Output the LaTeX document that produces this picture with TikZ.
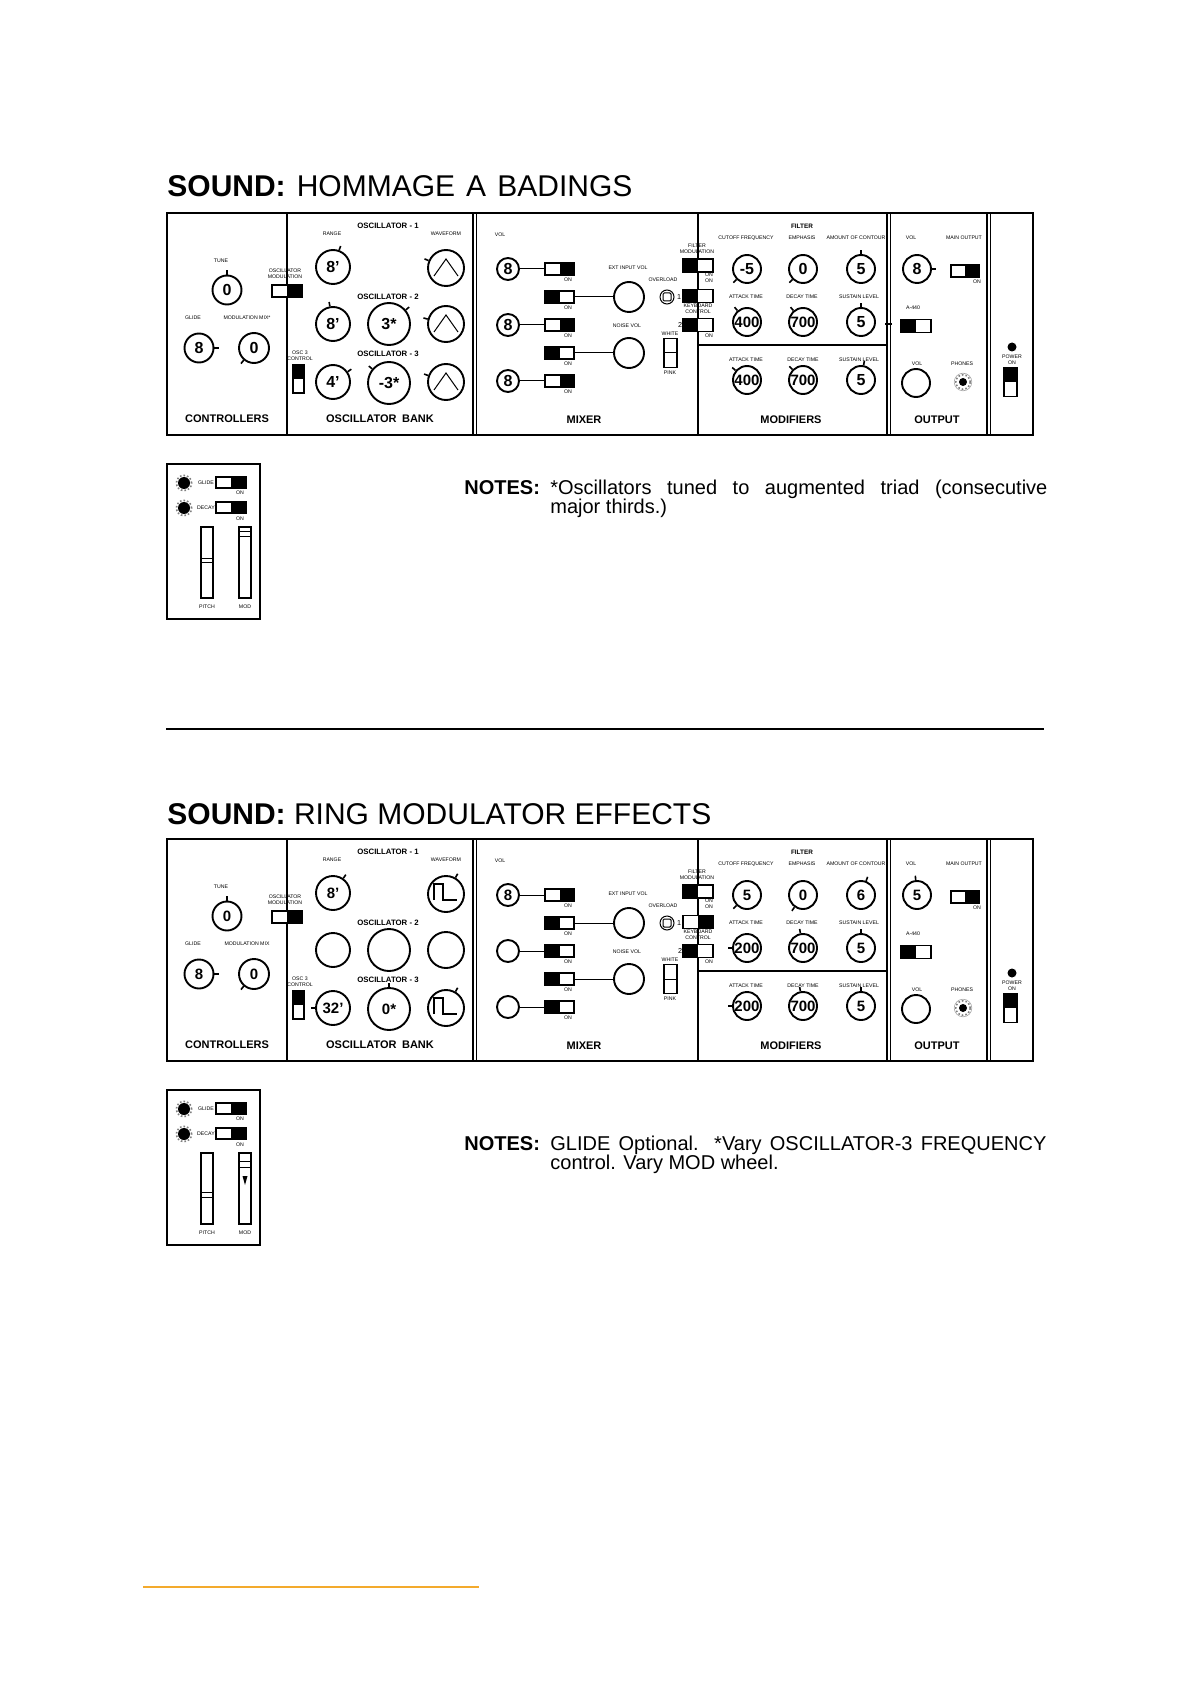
\documentclass[tikz,border=0pt]{standalone}
\usepackage{fontspec}
\setmainfont{Liberation Sans}
\definecolor{mmorange}{RGB}{243,170,45}
\tikzset{
 kfont/.style={font=\fontsize{8pt}{8pt}\selectfont\bfseries},
 knob/.style={circle,draw,line width=0.95pt,inner sep=0pt,fill=white,kfont},
 tick/.style={line width=0.8pt},
 sw/.style={rectangle,draw,line width=0.8pt,inner sep=0pt,fill=white},
 lab/.style={inner sep=0pt,align=center,font=\fontsize{2.6pt}{3pt}\selectfont},
 head/.style={inner sep=0pt,font=\fontsize{5.5pt}{6pt}\selectfont\bfseries},
 oschead/.style={inner sep=0pt,font=\fontsize{3.9pt}{4pt}\selectfont\bfseries},
 wire/.style={line width=0.5pt},
 wave/.style={line width=0.5pt},
 sqwave/.style={line width=0.7pt},
 dbl/.style={line width=0.55pt},
 jack/.style={circle,fill=black,inner sep=0pt},
 wheel/.style={draw,line width=0.6pt,minimum width=6pt,minimum height=35.5pt,inner sep=0pt},
 notefont/.style={anchor=base west,inner sep=0pt,font=\fontsize{10pt}{12pt}\selectfont},
}
\newcommand\mmknob[6]{\node[knob,minimum size=#4pt] (#1) at (#2,#3) {#5};\draw[tick] (#1.#6) -- ++(#6:2.2pt);}
\newcommand\mmknobb[5]{\node[knob,minimum size=#4pt] (#1) at (#2,#3) {#5};}
\newcommand\mmswL[5]{\node[sw,minimum width=#4pt,minimum height=#5pt] (#1) at (#2,#3) {};\fill (#1.north west) rectangle (#1.south);}
\newcommand\mmswR[5]{\node[sw,minimum width=#4pt,minimum height=#5pt] (#1) at (#2,#3) {};\fill (#1.north) rectangle (#1.south east);}
\newcommand\mmswT[5]{\node[sw,minimum width=#4pt,minimum height=#5pt] (#1) at (#2,#3) {};\fill (#1.north west) rectangle (#1.east);}
\newcommand\mmlab[4]{\node[lab] (#1) at (#2,#3) {#4};}
\newcommand\mmtri[1]{\draw[wave] ([shift={(-6pt,-4pt)}]#1.center) -- ([shift={(0pt,4.5pt)}]#1.center) -- ([shift={(6pt,-4pt)}]#1.center);}
\newcommand\mmsq[1]{\draw[sqwave] ([shift={(-6pt,-3pt)}]#1.center) -- ([shift={(-6pt,5pt)}]#1.center) -- ([shift={(-1.5pt,5pt)}]#1.center) -- ([shift={(-1.5pt,-3pt)}]#1.center) -- ([shift={(5.5pt,-3pt)}]#1.center);}
\newcommand\mmthree[1]{{\fontsize{7.5pt}{7.5pt}\selectfont #1}}
\newcommand\mmframe[1]{%
 \draw[line width=1.2pt] (167,213) rectangle (1033,435);
 \draw[line width=1.3pt] (287,213) -- (287,435);
 \draw[dbl] (473,213) -- (473,435); \draw[dbl] (476.5,213) -- (476.5,435);
 \draw[line width=0.8pt] (698,213) -- (698,435);
 \draw[line width=0.8pt] (698,345) -- (887,345);
 \draw[dbl] (887,213) -- (887,435); \draw[dbl] (890.5,213) -- (890.5,435);
 \draw[dbl] (987,213) -- (987,435); \draw[dbl] (990.5,213) -- (990.5,435);
 \node[head] (#1hC) at (227,419) {CONTROLLERS};
 \node[head] (#1hO) at (380,419) {OSCILLATOR\hspace{0.5em}BANK};
 \node[head] (#1hM) at (584,420) {MIXER};
 \node[head] (#1hD) at (791,420) {MODIFIERS};
 \node[head] (#1hU) at (937,420) {OUTPUT};
 \mmlab{#1a}{221}{261}{TUNE}
 \mmlab{#1b}{193}{318}{GLIDE}
 \mmlab{#1c}{285}{274}{OSCILLATOR\\MODULATION}
 \node[oschead] (#1d) at (388,226) {OSCILLATOR - 1};
 \node[oschead] (#1e) at (388,297) {OSCILLATOR - 2};
 \node[oschead] (#1f) at (388,354) {OSCILLATOR - 3};
 \mmlab{#1g}{332}{234}{RANGE}
 \mmlab{#1h}{446}{234}{WAVEFORM}
 \mmlab{#1i}{300}{356}{OSC 3\\CONTROL}
 \mmlab{#1j}{500}{235}{VOL}
 \mmlab{#1ka}{568}{280}{ON}
 \mmlab{#1kb}{568}{308}{ON}
 \mmlab{#1kc}{568}{336}{ON}
 \mmlab{#1kd}{568}{364}{ON}
 \mmlab{#1ke}{568}{392}{ON}
 \mmlab{#1l}{628}{268}{EXT INPUT VOL}
 \mmlab{#1m}{627}{326}{NOISE VOL}
 \mmlab{#1n}{663}{280}{OVERLOAD}
 \node[lab,font=\fontsize{3.6pt}{4pt}\selectfont] (#1o) at (679,297) {1};
 \node[lab,font=\fontsize{3.6pt}{4pt}\selectfont] (#1p) at (680,325) {2};
 \mmlab{#1q}{697}{249}{FILTER\\MODULATION}
 \mmlab{#1r}{709}{277.5}{ON\\ON}
 \mmlab{#1s}{698}{308.5}{KEYBOARD\\CONTROL}
 \mmlab{#1t}{709}{336}{ON}
 \mmlab{#1u}{670}{334}{WHITE}
 \mmlab{#1v}{670}{373}{PINK}
 \node[lab,font=\fontsize{3.2pt}{3.5pt}\selectfont\bfseries] (#1w) at (802,226) {FILTER};
 \mmlab{#1xa}{746}{238}{CUTOFF FREQUENCY}
 \mmlab{#1xb}{802}{238}{EMPHASIS}
 \mmlab{#1xc}{856}{238}{AMOUNT OF CONTOUR}
 \mmlab{#1ya}{746}{297}{ATTACK TIME}
 \mmlab{#1yb}{802}{297}{DECAY TIME}
 \mmlab{#1yc}{859}{297}{SUSTAIN LEVEL}
 \mmlab{#1za}{746}{360}{ATTACK TIME}
 \mmlab{#1zb}{803}{360}{DECAY TIME}
 \mmlab{#1zc}{859}{360}{SUSTAIN LEVEL}
 \mmlab{#1A}{911}{238}{VOL}
 \mmlab{#1B}{964}{238}{MAIN OUTPUT}
 \mmlab{#1C}{977}{282}{ON}
 \mmlab{#1D}{913}{308}{A-440}
 \mmlab{#1E}{917}{364}{VOL}
 \mmlab{#1F}{962}{364}{PHONES}
 \mmlab{#1G}{1012}{359.5}{POWER\\ON}
 \mmknobb{#1ext}{629}{297}{15}{}
 \mmknobb{#1noi}{629}{353}{15}{}
 \node[circle,draw,line width=0.5pt,minimum size=7pt,inner sep=0pt] (#1ovl) at (667,297) {};
 \node[draw,rounded corners=0.6pt,line width=0.5pt,minimum size=4pt,inner sep=0pt] (#1ovs) at (667,297) {};
 \node[sw,minimum width=6.5pt,minimum height=14.5pt] (#1nt) at (670.5,353) {};
 \draw[line width=0.5pt] (#1nt.west) -- (#1nt.east);
 \mmswT{#1oc}{298.5}{379}{5.5}{14}
 \mmswR{#1om}{287}{291}{15}{6}
 \mmknobb{#1ovb}{916}{383}{14}{}
 \node[jack,minimum size=4pt] (#1ph) at (963,382) {};
 \draw[gray,densely dotted,line width=0.8pt] (#1ph.center) circle (3.6pt);
 \draw[gray!70,line width=0.3pt] (#1ph.center) circle (4.4pt);
 \mmswR{#1mo}{965}{271}{14}{6}
 \mmswL{#1af}{916}{326}{15}{6.5}
 \node[jack,minimum size=4.5pt] (#1pl) at (1012,347) {};
 \mmswT{#1pw}{1010.5}{382}{6.5}{14.5}
}
\newcommand\mmwires[1]{%
 \draw[wire] (#1va) -- (#1sa);
 \draw[wire] (#1sb) -- (#1ext);
 \draw[wire] (#1vb) -- (#1sc);
 \draw[wire] (#1sd) -- (#1noi);
 \draw[wire] (#1vc) -- (#1se);
}
\newcommand\mmwheel[1]{%
 \draw[line width=1pt] (167,464) rectangle (260,619);
 \node[jack,minimum size=6pt] (#1ja) at (184,483) {};
 \draw[gray,densely dotted,line width=0.8pt] (#1ja.center) circle (3.8pt);
 \node[jack,minimum size=6pt] (#1jb) at (184,508) {};
 \draw[gray,densely dotted,line width=0.8pt] (#1jb.center) circle (3.8pt);
 \mmlab{#1la}{206}{483}{GLIDE}
 \mmlab{#1lb}{206}{508}{DECAY}
 \mmswR{#1g}{231}{482.5}{15}{5.5}
 \mmswR{#1d}{231}{507.5}{15}{5.5}
 \mmlab{#1lc}{240}{493}{ON}
 \mmlab{#1ld}{240}{519}{ON}
 \node[wheel] (#1pw) at (207,562.5) {};
 \node[wheel] (#1mw) at (245,562.5) {};
 \mmlab{#1le}{207}{607}{PITCH}
 \mmlab{#1lf}{245}{607}{MOD}
}
\begin{document}
\begin{tikzpicture}[x=0.5pt,y=-0.5pt]
\fill[white] (0,0) rectangle (1190,1684);
\useasboundingbox (0,0) rectangle (1190,1684);

% ---------- titles ----------
\node[anchor=base west,inner sep=0pt,font=\fontsize{15pt}{18pt}\selectfont] (t1) at (167,197) {\makebox[232.5pt][s]{\textbf{SOUND:} HOMMAGE A BADINGS}};
\node[anchor=base west,inner sep=0pt,font=\fontsize{15pt}{18pt}\selectfont] (t2) at (167,824) {\textbf{SOUND:} RING MODULATOR EFFECTS};

% ---------- panel 1 ----------
\begin{scope}
\mmframe{A}
\mmknob{Atune}{227}{290}{14.5}{0}{90}
\mmknob{Agl}{199}{348}{14.5}{8}{0}
\mmknob{Amm}{254}{348}{15}{0}{230}
\mmlab{Amml}{247}{318}{MODULATION MIX*}
\mmknob{Ara}{333}{267}{17}{8'}{70}
\mmknob{Awa}{446}{268}{18}{}{157}\mmtri{Awa}
\mmknob{Arb}{333}{324}{17}{8'}{100}
\mmknob{Afb}{389}{324}{21}{3*}{40}
\mmknob{Awb}{446}{324}{18}{}{165}\mmtri{Awb}
\mmknob{Arc}{333}{382}{17}{4'}{35}
\mmknob{Afc}{389}{383}{21}{-3*}{140}
\mmknob{Awc}{446}{382}{18}{}{160}\mmtri{Awc}
\mmknobb{Ava}{508}{269}{11}{8}
\mmknobb{Avb}{508}{325}{11}{8}
\mmknobb{Avc}{508}{381}{11}{8}
\mmswR{Asa}{559.5}{269}{14.5}{6}
\mmswL{Asb}{559.5}{297}{14.5}{6}
\mmswR{Asc}{559.5}{325}{14.5}{6}
\mmswL{Asd}{559.5}{353}{14.5}{6}
\mmswR{Ase}{559.5}{381}{14.5}{6}
\mmswL{Afm}{698}{265.5}{15}{6.5}
\mmswL{Aka}{698}{296}{15}{6.5}
\mmswL{Akb}{698}{325}{15}{6.5}
\mmknob{Aco}{747}{269}{14}{-5}{225}
\mmknob{Aem}{803}{269}{14}{0}{225}
\mmknob{Aam}{861}{269}{14}{5}{90}
\mmknob{Aea}{747}{322}{14}{\mmthree{400}}{130}
\mmknob{Aed}{803}{322}{14}{\mmthree{700}}{130}
\mmknob{Aes}{861}{322}{14}{5}{90}
\mmknob{Ala}{747}{380}{14}{\mmthree{400}}{140}
\mmknob{Ald}{803}{380}{14}{\mmthree{700}}{135}
\mmknob{Als}{861}{380}{14}{5}{80}
\mmknob{Aov}{917}{269}{14}{8}{0}
\draw[tick] (885,324) -- (892,324);
\mmwires{A}
\end{scope}

% small panel 1
\begin{scope}
\mmwheel{C}
\draw[line width=0.5pt] (201,558) -- (213,558);
\draw[line width=0.5pt] (201,562) -- (213,562);
\draw[line width=0.5pt] (239,531) -- (251,531);
\draw[line width=0.5pt] (239,536) -- (251,536);
\end{scope}

% notes 1
\node[notefont,font=\fontsize{10pt}{12pt}\selectfont\bfseries] (n1h) at (464,494) {NOTES:};
\node[notefont] (n1a) at (550,494) {\makebox[248.5pt][s]{*Oscillators tuned to augmented triad (consecutive}};
\node[notefont] (n1b) at (550,513) {major thirds.)};

% separator
\draw[line width=1.2pt] (166,729) -- (1044,729);

% ---------- panel 2 ----------
\begin{scope}[shift={(0,626)},kfont/.style={font=\fontsize{7.5pt}{7.5pt}\selectfont\bfseries}]
\mmframe{B}
\mmknob{Btune}{227}{290}{14.5}{0}{90}
\mmknob{Bgl}{199}{348}{14.5}{8}{0}
\mmknob{Bmm}{254}{348}{15}{0}{230}
\mmlab{Bmml}{247}{318}{MODULATION MIX}
\mmknob{Bra}{333}{267}{17}{8'}{55}
\mmknob{Bwa}{446}{268}{18}{}{60}\mmsq{Bwa}
\mmknobb{Brb}{333}{324}{17}{}
\mmknobb{Bfb}{389}{324}{21}{}
\mmknobb{Bwb}{446}{324}{18}{}
\mmknob{Brc}{333}{382}{17}{32'}{180}
\mmknob{Bfc}{389}{383}{21}{0*}{90}
\mmknob{Bwc}{446}{382}{18}{}{60}\mmsq{Bwc}
\mmknobb{Bva}{508}{269}{11}{8}
\mmknobb{Bvb}{508}{325}{11}{}
\mmknobb{Bvc}{508}{381}{11}{}
\mmswR{Bsa}{559.5}{269}{14.5}{6}
\mmswL{Bsb}{559.5}{297}{14.5}{6}
\mmswL{Bsc}{559.5}{325}{14.5}{6}
\mmswL{Bsd}{559.5}{353}{14.5}{6}
\mmswL{Bse}{559.5}{381}{14.5}{6}
\mmswL{Bfm}{698}{265.5}{15}{6.5}
\mmswR{Bka}{698}{296}{15}{6.5}
\mmswL{Bkb}{698}{325}{15}{6.5}
\mmknob{Bco}{747}{269}{14}{5}{225}
\mmknob{Bem}{803}{269}{14}{0}{235}
\mmknob{Bam}{861}{269}{14}{6}{70}
\mmknob{Bea}{747}{322}{14}{200}{180}
\mmknob{Bed}{803}{322}{14}{700}{100}
\mmknob{Bes}{861}{322}{14}{5}{90}
\mmknob{Bla}{747}{380}{14}{200}{180}
\mmknob{Bld}{803}{380}{14}{700}{100}
\mmknob{Bls}{861}{380}{14}{5}{90}
\mmknob{Bov}{917}{269}{14}{5}{95}
\mmwires{B}
\end{scope}

% small panel 2
\begin{scope}[shift={(0,626)}]
\mmwheel{D}
\draw[line width=0.5pt] (201,566) -- (213,566);
\draw[line width=0.5pt] (201,571) -- (213,571);
\draw[line width=0.5pt] (239,535) -- (251,535);
\draw[line width=0.5pt] (239,541) -- (251,541);
\fill (242.5,550) -- (247.5,550) -- (245,559) -- cycle;
\end{scope}

% notes 2
\node[notefont,font=\fontsize{10pt}{12pt}\selectfont\bfseries] (n2h) at (464,1150) {NOTES:};
\node[notefont] (n2a) at (550,1150) {\makebox[248pt][s]{GLIDE Optional. *Vary OSCILLATOR-3 FREQUENCY}};
\node[notefont] (n2b) at (550,1169) {control. Vary MOD wheel.};

% orange rule
\draw[mmorange,line width=0.8pt] (143,1587) -- (479,1587);
\end{tikzpicture}
\end{document}
